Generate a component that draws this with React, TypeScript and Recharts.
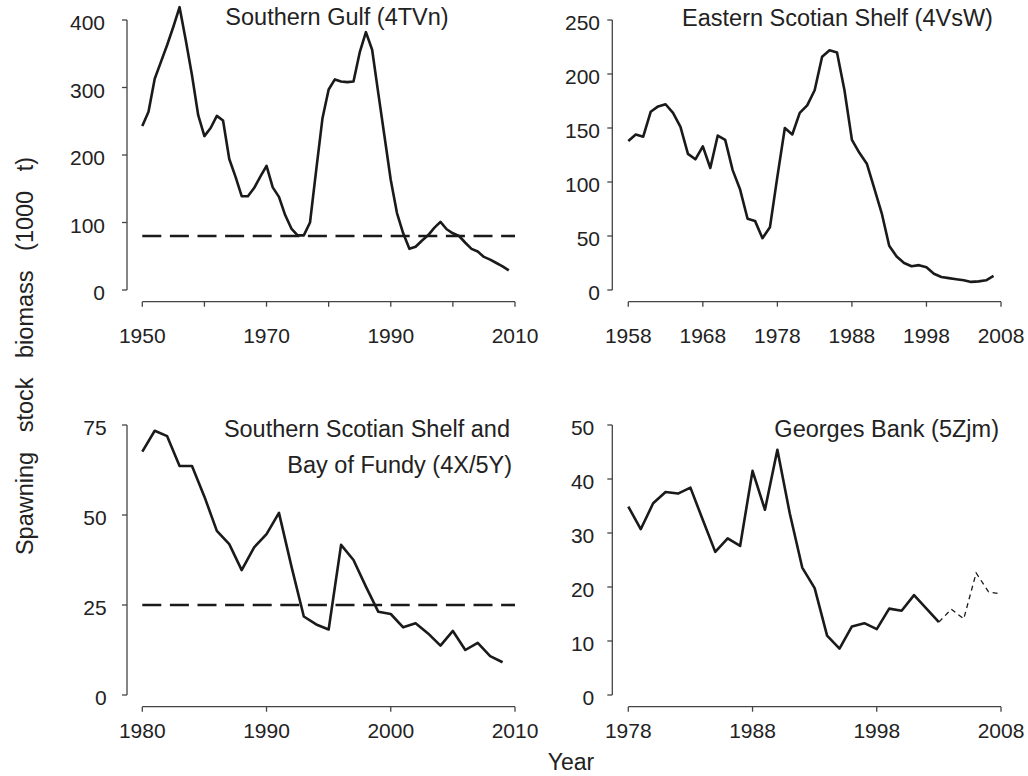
import { Line, LineChart, ReferenceLine, XAxis, YAxis } from "recharts";

const FONT = '"Liberation Sans", Arial, Helvetica, sans-serif';
const INK = "#1a1a1a";
const AXIS = "#444";

// Southern Gulf (4TVn), spawning stock biomass (1000 t), 1950-2009
const gulfStart = 1950;
const gulfSSB = [
  243, 264, 313, 338, 363, 390, 419, 370, 318, 259,
  228, 240, 258, 251, 194, 168, 139, 139, 151, 168,
  184, 152, 138, 111, 91, 81, 81, 100, 178, 254,
  297, 312, 309, 308, 309, 352, 382, 356, 291, 227,
  163, 114, 84, 61, 64, 73, 81, 92, 101, 90,
  84, 80, 70, 61, 57, 49, 45, 40, 35, 29,
];
const gulfRef = 80;

// Eastern Scotian Shelf (4VsW), 1958-2007
const eastStart = 1958;
const eastSSB = [
  138, 144, 142, 165, 170, 172, 164, 151, 126, 121,
  133, 113, 143, 139, 111, 93, 66, 64, 48, 58,
  105, 150, 144, 164, 171, 185, 216, 222, 220, 185,
  139, 127, 117, 94, 71, 41, 31, 25, 22, 23,
  21, 15, 12, 11, 10, 9, 7.5, 8, 9, 13,
];

// Southern Scotian Shelf and Bay of Fundy (4X/5Y), 1980-2009
const southStart = 1980;
const southSSB = [
  67.6, 73.4, 71.9, 63.6, 63.6, 55.1, 45.6, 41.9, 34.7, 41.0,
  44.7, 50.6, 35.8, 21.8, 19.6, 18.2, 41.7, 37.5, 30.1, 23.1,
  22.5, 18.8, 19.9, 17.1, 13.7, 17.8, 12.5, 14.5, 10.8, 9.1,
];
const southRef = 25;

// Georges Bank (5Zjm), assessed 1978-2003, projected 2003-2008
const georgesStart = 1978;
const georgesSSB = [
  34.9, 30.7, 35.5, 37.6, 37.3, 38.4, 32.4, 26.5, 29.0, 27.6,
  41.5, 34.3, 45.4, 33.6, 23.6, 19.8, 11.0, 8.6, 12.7, 13.3,
  12.2, 16.0, 15.6, 18.5, 16.0, 13.5,
];
const georgesProjStart = 2003;
const georgesProj = [13.5, 15.9, 14.1, 22.6, 19.1, 18.7];

const gulfXTicks = [1950, 1960, 1970, 1980, 1990, 2000, 2010];
const eastXTicks = [1958, 1968, 1978, 1988, 1998, 2008];
const southXTicks = [1980, 1990, 2000, 2010];
const georgesXTicks = [1978, 1988, 1998, 2008];

const gulfYTicks = [0, 100, 200, 300, 400];
const eastYTicks = [0, 50, 100, 150, 200, 250];
const southYTicks = [0, 25, 50, 75];
const georgesYTicks = [0, 10, 20, 30, 40, 50];

const toRows = (start: number, values: number[]) =>
  values.map((v, i) => ({ year: start + i, ssb: v }));

const gulfRows = toRows(gulfStart, gulfSSB);
const eastRows = toRows(eastStart, eastSSB);
const southRows = toRows(southStart, southSSB);

const georgesRows = (() => {
  const rows: { year: number; ssb: number | null; proj: number | null }[] = [];
  const last = georgesProjStart + georgesProj.length - 1;
  for (let y = georgesStart; y <= last; y++) {
    const a = y - georgesStart;
    const b = y - georgesProjStart;
    rows.push({
      year: y,
      ssb: a < georgesSSB.length ? georgesSSB[a] : null,
      proj: b >= 0 ? georgesProj[b] : null,
    });
  }
  return rows;
})();

const tickStyle = { fontSize: 21, fill: "#222", fontFamily: FONT };

// y labels sit a touch below their tick, as in R
function YTick(props: any) {
  const { x, y, payload } = props;
  return (
    <text x={x} y={y + 10} textAnchor="end" fontSize={21} fill="#222" fontFamily={FONT}>
      {payload.value}
    </text>
  );
}

type PanelProps = {
  rows: any[];
  box: [number, number, number, number];
  top: number;
  right: number;
  plotH: number;
  xDomain: [number, number];
  xTicks: number[];
  xFmt?: (v: number) => string;
  xGap: number;
  xTickGap: number;
  yDomain: [number, number];
  yTicks: number[];
  yWidth: number;
  yGap: number;
  yTickGap: number;
  yLineDash?: string;
  refY?: number;
  proj?: boolean;
};

// R-style detached axes: an invisible "a" axis sits between the plot and the drawn axis
function Panel(p: PanelProps) {
  const [left, top, w, h] = p.box;
  const xHeight = h - p.top - p.plotH - p.xGap;
  return (
    <div style={{ position: "absolute", left, top }}>
      <LineChart width={w} height={h} data={p.rows} margin={{ top: p.top, right: p.right, left: 0, bottom: 0 }}>
        <XAxis
          xAxisId="main"
          dataKey="year"
          type="number"
          scale="linear"
          domain={p.xDomain}
          ticks={p.xTicks}
          interval={0}
          height={xHeight}
          tickSize={5}
          tickMargin={p.xTickGap}
          tickFormatter={p.xFmt}
          tick={tickStyle}
          stroke={AXIS}
          strokeWidth={1.3}
        />
        <XAxis xAxisId="a" type="number" domain={[0, 1]} height={p.xGap} tick={false} tickLine={false} axisLine={false} />
        <YAxis
          yAxisId="main"
          type="number"
          scale="linear"
          domain={p.yDomain}
          ticks={p.yTicks}
          interval={0}
          width={p.yWidth}
          tickSize={5}
          tickMargin={p.yTickGap}
          tick={<YTick />}
          stroke={AXIS}
          strokeWidth={1.3}
          axisLine={p.yLineDash ? { stroke: AXIS, strokeWidth: 1.3, strokeDasharray: p.yLineDash } : { stroke: AXIS, strokeWidth: 1.3 }}
        />
        <YAxis yAxisId="a" type="number" domain={[0, 1]} width={p.yGap} tick={false} tickLine={false} axisLine={false} />
        {p.refY !== undefined && (
          <ReferenceLine xAxisId="main" yAxisId="main" y={p.refY} stroke={INK} strokeWidth={2.6} strokeDasharray="19 8.6" />
        )}
        <Line
          xAxisId="main"
          yAxisId="main"
          type="linear"
          dataKey="ssb"
          stroke={INK}
          strokeWidth={2.6}
          strokeLinejoin="round"
          dot={false}
          activeDot={false}
          isAnimationActive={false}
        />
        {p.proj && (
          <Line
            xAxisId="main"
            yAxisId="main"
            type="linear"
            dataKey="proj"
            stroke={INK}
            strokeWidth={1.3}
            strokeDasharray="5 4"
            dot={false}
            activeDot={false}
            isAnimationActive={false}
          />
        )}
      </LineChart>
    </div>
  );
}

export default function App() {
  return (
    <div style={{ position: "absolute", left: 0, top: 0, width: 1028, height: 776, background: "#fff", fontFamily: FONT }}>
      <Panel
        rows={gulfRows}
        box={[0, 0, 550, 380]}
        top={6.5}
        right={35}
        plotH={283.5}
        xDomain={[1950, 2010]}
        xTicks={gulfXTicks}
        xFmt={(v) => ((v - 1950) % 20 === 0 ? String(v) : "")}
        xGap={11.7}
        xTickGap={21.7}
        yDomain={[0, 420]}
        yTicks={gulfYTicks}
        yWidth={127}
        yGap={15.3}
        yTickGap={17}
        yLineDash="0 13.5 270 2000"
        refY={gulfRef}
      />
      <Panel
        rows={eastRows}
        box={[514, 0, 514, 380]}
        top={20}
        right={27}
        plotH={270}
        xDomain={[1958, 2008]}
        xTicks={eastXTicks}
        xGap={11.7}
        xTickGap={21.7}
        yDomain={[0, 250]}
        yTicks={eastYTicks}
        yWidth={98.3}
        yGap={16}
        yTickGap={7.3}
      />
      <Panel
        rows={southRows}
        box={[0, 380, 550, 396]}
        top={45}
        right={35}
        plotH={270}
        xDomain={[1980, 2010]}
        xTicks={southXTicks}
        xGap={11.7}
        xTickGap={11.7}
        yDomain={[0, 75]}
        yTicks={southYTicks}
        yWidth={127}
        yGap={15.3}
        yTickGap={15.3}
        refY={southRef}
      />
      <Panel
        rows={georgesRows}
        box={[514, 380, 514, 396]}
        top={45}
        right={27}
        plotH={270}
        xDomain={[1978, 2008]}
        xTicks={georgesXTicks}
        xGap={11.7}
        xTickGap={11.7}
        yDomain={[0, 50]}
        yTicks={georgesYTicks}
        yWidth={98.3}
        yGap={16}
        yTickGap={13}
        proj
      />
      <svg width={1028} height={776} style={{ position: "absolute", left: 0, top: 0, pointerEvents: "none" }} fontFamily={FONT} fill="#222">
        <text x={337} y={25} fontSize={23.5} textAnchor="middle">Southern Gulf (4TVn)</text>
        <text x={837.5} y={26} fontSize={23.5} textAnchor="middle">Eastern Scotian Shelf (4VsW)</text>
        <text x={510} y={437} fontSize={23.5} textAnchor="end">Southern Scotian Shelf and</text>
        <text x={512} y={472.5} fontSize={23.5} textAnchor="end">Bay of Fundy (4X/5Y)</text>
        <text x={999} y={437} fontSize={23.5} textAnchor="end">Georges Bank (5Zjm)</text>
        <text x={571} y={770} fontSize={23} textAnchor="middle">Year</text>
        <text transform="translate(33,356) rotate(-90)" fontSize={23.5} textAnchor="middle" style={{ wordSpacing: "13px" }}>
          Spawning stock biomass (1000 t)
        </text>
      </svg>
    </div>
  );
}
